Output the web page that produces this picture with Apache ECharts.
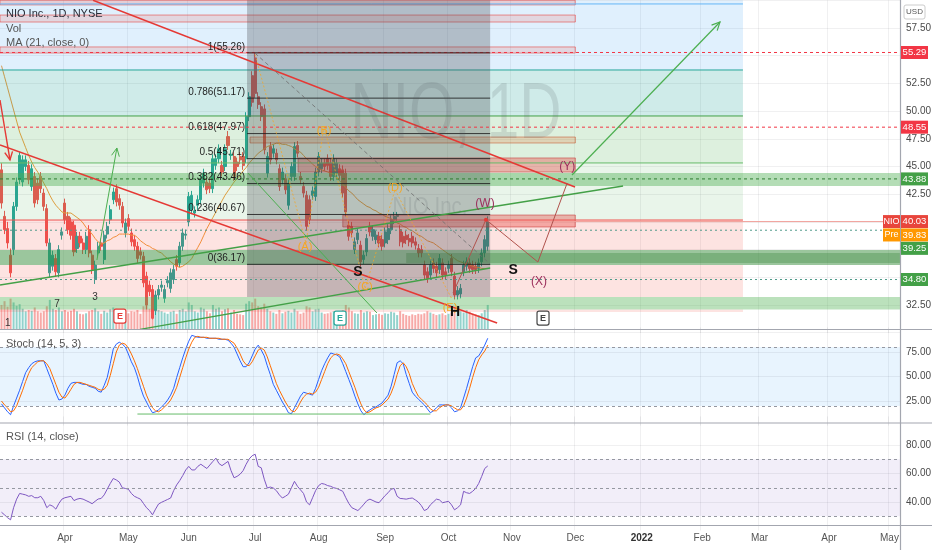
<!DOCTYPE html>
<html><head><meta charset="utf-8">
<script src="https://cdn.jsdelivr.net/npm/echarts@6/dist/echarts.min.js"></script>
<style>html,body{margin:0;padding:0;background:#fff}#c{width:932px;height:550px}</style>
</head><body><div id="c"></div>
<script>
// ---------- DATA ----------
const START_DATE = '2021-03-03';
const N_CATS = 298;
const HOLIDAYS = ['2021-04-02','2021-05-31','2021-07-05','2021-09-06','2021-11-25','2021-12-24','2022-01-17','2022-02-21','2022-04-15'];
const MONTHS = ['Jan','Feb','Mar','Apr','May','Jun','Jul','Aug','Sep','Oct','Nov','Dec'];

const opens = [
44.7,40.5,39.4,37.0,37.5,41.4,43.8,43.6,45.0,45.1,
43.2,44.1,43.5,44.1,42.6,41.2,35.4,36.0,36.7,35.4,
38.8,41.7,40.5,40.0,39.7,37.6,38.7,38.1,37.5,39.3,
37.0,34.8,37.2,38.1,36.6,38.9,40.2,42.0,43.0,42.1,
41.4,39.0,40.3,39.0,38.4,37.8,37.3,36.9,35.1,34.3,
33.9,32.0,33.4,34.1,33.1,34.5,34.0,34.8,36.6,36.3,
37.8,38.8,40.0,41.1,40.8,41.5,42.0,43.5,43.6,43.5,
43.0,45.1,45.7,45.1,45.0,47.7,46.0,45.9,45.4,45.9,
45.9,45.7,49.5,53.2,54.8,51.3,50.4,50.2,44.4,46.8,
46.2,46.2,44.8,43.8,43.9,41.5,44.1,44.1,46.9,44.1,
43.2,42.4,42.0,42.4,42.3,44.5,44.8,45.3,45.7,45.3,
44.1,44.4,44.8,44.7,44.4,39.7,39.6,37.5,38.4,37.9,
36.6,37.3,39.6,38.7,38.4,38.7,38.4,38.1,38.4,39.3,
40.2,40.5,39.3,38.7,38.8,38.5,38.7,38.2,37.6,37.5,
36.1,35.5,35.2,36.3,36.0,35.7,36.3,35.5,35.8,36.7,
35.1,33.4,33.5,35.5,36.0,36.3,36.1,36.0,35.8,36.4,
37.2,37.8];
const closes = [
41.7,39.3,38.1,35.4,41.4,43.6,46.0,45.6,45.6,43.8,
44.8,41.7,42.0,43.0,41.4,38.1,38.1,37.0,35.5,37.5,
39.1,40.2,39.3,38.8,37.3,38.7,38.1,37.5,38.7,37.2,
35.7,36.1,37.8,37.8,38.8,39.6,41.1,42.7,41.8,41.5,
39.9,39.9,39.6,38.2,37.8,36.7,37.0,34.5,32.5,33.7,
31.3,33.4,33.9,34.3,33.9,34.7,35.4,35.7,36.0,37.8,
39.0,38.9,42.3,42.4,41.0,42.0,43.8,44.4,42.9,43.0,
45.7,45.7,46.6,44.5,46.6,46.9,46.1,44.1,45.0,45.6,
45.1,49.5,51.3,50.8,51.6,50.6,49.5,46.5,45.9,45.6,
46.6,45.6,43.2,44.5,42.9,43.5,45.0,46.8,46.2,43.8,
42.6,39.6,40.2,42.8,44.5,45.9,45.3,45.0,45.1,44.1,
45.7,45.3,44.2,42.6,40.9,38.7,39.0,38.2,39.0,36.4,
37.0,38.5,39.1,39.3,38.8,38.1,37.8,39.1,39.4,40.2,
40.5,40.6,38.2,38.1,38.4,38.2,38.1,37.9,37.2,37.2,
35.2,34.9,36.1,35.8,35.4,36.7,35.2,35.2,36.1,35.5,
33.4,33.8,34.0,36.1,36.4,35.8,35.7,35.7,36.3,37.2,
38.4,40.03];
const lows = [
41.2,38.9,37.6,35.0,37.0,41.0,43.4,43.2,44.6,43.4,
42.8,41.3,41.6,42.6,41.0,37.8,35.0,35.6,35.1,35.0,
38.4,39.8,38.9,38.4,36.9,37.2,37.7,37.1,37.1,36.8,
35.3,34.4,36.8,37.4,36.2,38.5,39.8,41.6,41.4,41.1,
39.5,38.6,39.2,37.8,37.4,36.3,36.6,34.1,32.1,33.3,
31.2,31.6,33.0,33.7,32.7,34.1,33.6,34.4,35.6,35.9,
37.4,38.4,39.6,40.7,40.4,41.1,41.6,43.1,42.5,42.6,
42.6,44.7,45.3,44.1,44.6,46.5,45.6,43.7,44.6,45.2,
44.7,45.3,49.1,50.4,51.2,50.2,49.1,46.1,44.0,45.2,
45.8,45.2,42.8,43.4,42.5,41.1,43.7,43.7,45.8,43.4,
42.2,39.2,39.8,42.0,41.9,44.1,44.4,44.6,44.7,43.7,
43.7,44.0,43.8,42.2,40.5,38.3,38.6,37.1,38.0,36.0,
36.2,36.9,38.7,38.3,38.0,37.7,37.4,37.7,38.0,38.9,
39.8,40.1,37.8,37.7,38.0,37.8,37.7,37.5,36.8,36.8,
34.8,34.5,34.8,35.4,35.0,35.3,34.8,34.8,35.4,35.1,
33.0,33.0,33.1,35.1,35.6,35.4,35.3,35.3,35.4,36.0,
36.8,37.4];
const highs = [
45.3,41.0,40.0,37.6,41.8,44.0,46.3,46.0,46.0,45.5,
45.2,44.5,43.9,44.5,43.0,41.6,38.5,37.4,37.1,37.9,
39.5,42.1,40.9,40.4,40.1,39.1,39.1,38.5,39.1,39.7,
37.4,36.5,38.2,38.5,39.2,40.0,41.5,43.1,43.4,42.5,
41.8,40.3,40.7,39.4,38.8,38.2,37.7,37.3,35.5,34.7,
34.3,33.8,34.3,34.7,34.3,35.1,35.8,36.1,37.0,38.2,
39.4,39.3,42.7,42.8,41.4,42.4,44.2,44.8,44.0,43.9,
46.1,46.1,47.0,45.5,47.0,48.2,46.5,46.3,45.8,46.3,
46.3,49.9,51.7,53.6,55.26,51.7,50.8,50.6,46.3,47.2,
47.0,46.6,45.2,44.9,44.3,43.9,45.4,47.2,47.3,44.5,
43.6,42.8,42.4,43.2,44.9,46.3,45.7,45.7,46.1,45.7,
46.1,45.7,45.2,45.1,44.8,40.1,40.0,38.6,39.4,38.3,
37.4,38.9,40.0,39.7,39.2,39.1,38.8,39.5,39.8,40.6,
40.9,40.9,39.7,39.1,39.2,38.9,39.1,38.6,38.0,37.9,
36.5,35.9,36.5,36.7,36.4,37.1,36.7,35.9,36.5,37.1,
35.5,34.2,34.4,36.5,36.8,36.7,36.5,36.4,36.7,37.6,
38.8,40.5];
const volumes = [
95,110,88,120,105,92,98,80,70,75,72,85,70,65,70,90,115,80,75,85,70,
75,68,72,80,70,60,58,62,70,75,82,70,60,72,65,78,85,80,70,75,66,
62,70,68,75,60,90,110,80,120,95,75,70,65,60,68,72,60,75,80,70,105,
95,70,65,85,80,70,62,95,80,85,70,78,82,65,75,60,58,55,100,110,105,
120,90,85,100,80,70,65,60,75,62,68,72,65,80,70,60,65,90,85,70,78,
80,65,60,62,66,70,62,58,75,95,85,70,62,60,75,65,70,68,55,58,60,
56,62,60,68,65,55,70,60,55,52,58,55,60,58,62,70,65,60,55,58,62,
55,60,65,80,90,70,65,75,68,60,58,55,62,75,95];
const ma21 = [
54.1,53.1,52.1,51.1,50.1,49.1,48.1,47.4,46.7,46.0,
45.4,44.9,44.5,44.0,43.5,43.0,42.4,41.9,41.5,41.2,
40.9,40.8,40.8,40.8,40.6,40.4,40.2,39.9,39.5,39.2,
38.9,38.5,38.2,38.0,38.1,38.3,38.4,38.6,38.7,38.9,
38.9,38.9,38.9,38.8,38.8,38.6,38.3,38.1,37.9,37.8,
37.6,37.5,37.3,37.2,36.9,36.7,36.4,36.2,36.0,35.9,
36.0,36.2,36.4,36.7,37.2,37.7,38.2,38.8,39.4,39.9,
40.4,40.9,41.4,41.9,42.4,42.8,43.2,43.6,43.9,44.2,
44.6,44.9,45.3,45.6,45.9,46.2,46.4,46.6,46.8,46.9,
47.0,47.1,47.1,47.0,47.0,46.9,46.8,46.6,46.4,46.3,
46.0,45.7,45.5,45.2,45.0,44.8,44.7,44.6,44.5,44.4,
44.3,44.0,43.7,43.4,43.1,42.8,42.6,42.3,42.0,41.8,
41.6,41.4,41.3,41.1,41.0,40.8,40.7,40.5,40.4,40.3,
40.1,39.9,39.8,39.6,39.5,39.3,39.2,39.0,38.8,38.7,
38.5,38.3,38.2,38.1,37.9,37.7,37.5,37.3,37.1,36.9,
36.7,36.5,36.4,36.3,36.2,36.1,36.0,35.9,35.9,35.8,
35.8,35.8];
const stochK = [
22,18,14,11,20,28,36,45,54,59,63,65,66,66,66,58,50,42,33,26,
27,31,38,43,44,44,43,42,42,40,39,38,35,34,41,49,63,78,83,85,
83,80,73,65,59,50,39,30,24,18,13,14,16,19,22,26,31,38,49,59,
69,78,86,92,91,90,90,90,89,89,89,89,88,88,88,87,84,80,73,66,
60,60,64,71,78,82,77,71,61,52,42,36,30,24,19,13,12,18,24,30,
34,33,32,31,38,47,56,63,69,74,73,72,70,63,55,47,39,30,22,15,
11,14,16,18,19,21,23,27,31,40,52,64,66,63,52,43,34,30,27,24,
21,17,13,15,18,21,21,21,21,18,14,15,18,28,38,49,60,69,71,76,
82,89];
const stochD = [
25,21,18,14,15,20,28,36,45,53,59,62,65,66,66,63,58,50,42,34,
29,28,32,37,42,44,44,43,42,41,40,39,37,36,37,41,51,63,75,82,
84,83,79,73,66,58,49,40,31,24,18,15,14,16,19,22,26,32,39,49,
59,69,78,85,90,91,90,90,90,89,89,89,89,88,88,88,86,84,79,73,
66,62,61,65,71,77,79,77,70,61,52,43,36,30,24,19,15,14,18,24,
29,32,33,32,34,39,47,55,63,69,72,73,72,68,63,55,47,39,30,22,
16,13,14,16,18,19,21,24,27,33,41,52,61,64,60,53,43,36,30,27,
24,21,17,15,15,18,20,21,21,20,18,16,16,20,28,38,49,59,67,72,
76,82];
const rsi14 = [
32.8,31,29,27.5,36,42,46,45.5,45,44,
44.5,43,43,44,41,36,38,37,35,39,
42,43,43.5,44,41,42,42.5,42,41,40,
38.8,40.5,42.1,42.5,45,49,53,56.5,55.5,54,
50,49.5,49,46,44,43,42,39,36,34,
31,35,38.6,39.8,40.8,41.8,42.8,48,52,55,
58.5,62.5,65,62.5,62.5,65,66.5,65,63.5,66,
68.5,70.8,67,65.5,67,68.5,62,57,58,59.5,
62,66.5,70.2,72.5,73.5,65,64,56,49.8,50.5,
49.8,48,45,42.8,44,45.5,50,54.5,51,48.5,
46,40,38,43,48,51.5,53,52.5,51.5,51,
50,49.5,48.5,47.5,43,39,36,35,34,36,
38.5,41,42,41,40,39.5,42,44.5,46.5,49,
49.5,44,42.5,42.3,42,42.5,42.8,41.5,40,37.5,
34,35,38,40,42,41.5,39.5,40,40.5,38,
34.5,36,38,47.5,46.5,46,47.5,49.5,53,58,
63.5,65.3];
const priceTicks = [32.5, 42.5, 45, 47.5, 50, 52.5, 57.5];
const stochTicks = [25, 50, 75];
const rsiTicks = [40, 60, 80];
const lastPrice = 40.03, prePrice = 39.83;
const tagPrices = { red: [55.29, 48.55], green: [43.88, 34.80], support: 39.25 };
const fibLevels = [['1',55.26],['0.786',51.17],['0.618',47.97],['0.5',45.71],['0.382',43.46],['0.236',40.67],['0',36.17]];

// ---------- categories ----------
const categories = [];
(function(){
  const d = new Date(START_DATE + 'T00:00:00Z');
  while (categories.length < N_CATS) {
    const wd = d.getUTCDay();
    const s = d.toISOString().slice(0,10);
    if (wd !== 0 && wd !== 6 && HOLIDAYS.indexOf(s) < 0) categories.push(s);
    d.setUTCDate(d.getUTCDate() + 1);
  }
})();
const isMonthStart = categories.map((c,i)=> i>0 && c.slice(0,7) !== categories[i-1].slice(0,7));
function fmtCat(v){ const m = +v.slice(5,7); return m===1 ? '{b|'+v.slice(0,4)+'}' : MONTHS[m-1]; }

const UP = '#26a69a', DOWN = '#ef5350';
const FONT = '"Liberation Sans", Arial, sans-serif';
const candleData = opens.map((o,i)=>[o, closes[i], lows[i], highs[i]]);
const volData = volumes.map((v,i)=>({value:v, itemStyle:{color: closes[i]>=opens[i] ? 'rgba(38,166,154,0.5)' : 'rgba(239,83,80,0.5)'}}));

function xAx(gi, labels){
  return {type:'category', gridIndex:gi, data:categories, boundaryGap:true,
    axisLine:{show:false}, axisTick:{show:false},
    axisLabel: labels ? {show:true, interval:(i)=>isMonthStart[i], formatter:fmtCat, color:'#555', fontSize:10, margin:3, fontFamily:FONT,
      rich:{b:{fontWeight:'bold', color:'#333', fontSize:10, fontFamily:FONT}}} : {show:false},
    splitLine:{show: gi!==1, interval:(i)=>isMonthStart[i], lineStyle:{color:'rgba(42,46,57,0.07)', width:1}}};
}
function yLab(list){ return {show:true, color:'#4a4a4a', fontSize:10, margin:6, fontFamily:FONT,
  formatter:(v)=> list.some(t=>Math.abs(t-v)<1e-6) ? v.toFixed(2) : ''}; }
const faint = {color:'rgba(42,46,57,0.07)', width:1, type:'solid'};
const dash = {color:'#9598a1', width:1, type:[3,3]};

const option = {
  animation:false,
  backgroundColor:'#fff',
  grid:[
    {left:0, right:32, top:0.3, height:332.4, containLabel:false, outerBoundsMode:'none'},
    {left:0, right:32, top:0, height:329, containLabel:false, outerBoundsMode:'none'},
    {left:0, right:32, top:327.5, height:98, containLabel:false, outerBoundsMode:'none'},
    {left:0, right:32, top:416.5, height:114, containLabel:false, outerBoundsMode:'none'}
  ],
  xAxis:[xAx(0,false), xAx(1,false), xAx(2,false), xAx(3,true)],
  yAxis:[
    {gridIndex:0, type:'value', min:30, max:60, interval:2.5, position:'right', axisLine:{show:false}, axisTick:{show:false},
      splitLine:{show:true, lineStyle:faint}, axisLabel:yLab(priceTicks)},
    {gridIndex:1, type:'value', min:0, max:1300, show:false},
    {gridIndex:2, type:'value', min:0, max:100, interval:25, position:'right', axisLine:{show:false}, axisTick:{show:false},
      splitLine:{show:false}, axisLabel:yLab(stochTicks)},
    {gridIndex:3, type:'value', min:20, max:100, interval:20, position:'right', axisLine:{show:false}, axisTick:{show:false},
      splitLine:{show:false}, axisLabel:yLab(rsiTicks)}
  ],
  series:[
    {type:'bar', name:'Vol', xAxisIndex:1, yAxisIndex:1, data:volData, barWidth:2, silent:true, z:1},
    {type:'candlestick', name:'NIO', xAxisIndex:0, yAxisIndex:0, data:candleData, barWidth:2.6, silent:true, z:2,
      itemStyle:{color:UP, color0:DOWN, borderColor:UP, borderColor0:DOWN, borderWidth:1}},
    {type:'line', name:'MA', xAxisIndex:0, yAxisIndex:0, data:ma21, showSymbol:false, silent:true, z:3,
      lineStyle:{color:'#f39c3c', width:1}},
    {type:'line', name:'K', xAxisIndex:2, yAxisIndex:2, data:stochK, showSymbol:false, silent:true, z:3,
      lineStyle:{color:'#2962ff', width:1},
      markArea:{silent:true, itemStyle:{color:'rgba(33,150,243,0.1)'}, data:[[{yAxis:20},{yAxis:80}]]},
      markLine:{silent:true, symbol:'none', label:{show:false},
        data:[{yAxis:80, lineStyle:dash},{yAxis:20, lineStyle:dash},{yAxis:25, lineStyle:faint},{yAxis:50, lineStyle:faint},{yAxis:75, lineStyle:faint}]}},
    {type:'line', name:'D', xAxisIndex:2, yAxisIndex:2, data:stochD, showSymbol:false, silent:true, z:3,
      lineStyle:{color:'#ff6d00', width:1}},
    {type:'line', name:'RSI', xAxisIndex:3, yAxisIndex:3, data:rsi14, showSymbol:false, silent:true, z:3,
      lineStyle:{color:'#7e57c2', width:1},
      markArea:{silent:true, itemStyle:{color:'rgba(126,87,194,0.1)'}, data:[[{yAxis:30},{yAxis:70}]]},
      markLine:{silent:true, symbol:'none', label:{show:false},
        data:[{yAxis:70, lineStyle:dash},{yAxis:50, lineStyle:dash},{yAxis:30, lineStyle:dash},{yAxis:40, lineStyle:faint},{yAxis:60, lineStyle:faint},{yAxis:80, lineStyle:faint}]}}
  ]
};
const chart = echarts.init(document.getElementById('c'), null, {renderer:'canvas', width:932, height:550});
chart.setOption(option);

// ---------- drawings (data coordinates -> pixels through the axes) ----------
const gx0 = chart.convertToPixel({xAxisIndex:0}, 0);
const gx10 = chart.convertToPixel({xAxisIndex:0}, 10);
const step = (gx10 - gx0) / 10;
const px = (i) => gx0 + step * i;
const py = (p) => chart.convertToPixel({yAxisIndex:0}, p);
const pyS = (v) => chart.convertToPixel({yAxisIndex:2}, v);
const P = (i,p) => [px(i), py(p)];
const L = -0.5, FIBEND = 245.5, RIGHT = N_CATS - 0.5;
const G = [];
function rect(i0,i1,pLo,pHi,fill,stroke,z){
  const a = P(i0,pHi), b = P(i1,pLo);
  G.push({type:'rect', silent:true, z:z||4, shape:{x:a[0], y:a[1], width:b[0]-a[0], height:b[1]-a[1]},
    style:{fill:fill, stroke:stroke||null, lineWidth:1}});
}
function seg(a,b,stroke,w,dashArr,z){
  const A = P(a[0],a[1]), B = P(b[0],b[1]);
  G.push({type:'line', silent:true, z:z||6, shape:{x1:A[0],y1:A[1],x2:B[0],y2:B[1]},
    style:{stroke:stroke, lineWidth:w||1, lineDash:dashArr||null}});
  return [A,B];
}
function arrow(a,b,stroke,w){
  const [A,B] = seg(a,b,stroke,w);
  const ang = Math.atan2(B[1]-A[1], B[0]-A[0]), len = 9;
  const p1 = [B[0]-len*Math.cos(ang-0.45), B[1]-len*Math.sin(ang-0.45)];
  const p2 = [B[0]-len*Math.cos(ang+0.45), B[1]-len*Math.sin(ang+0.45)];
  G.push({type:'polyline', silent:true, z:6, shape:{points:[p1,B,p2]}, style:{stroke:stroke, lineWidth:w||1, fill:null}});
}
function txt(x,y,t,font,fill,align,z,extra){
  const e = {type:'text', silent:true, z:z||7, x:x, y:y,
    style:{text:t, font:font, fill:fill, textAlign:align||'left', textVerticalAlign:'middle', align:align||'left', verticalAlign:'middle'}};
  if (extra) Object.assign(e, extra);
  G.push(e);
}
function dtxt(i,p,t,font,fill){ const a = P(i,p); txt(a[0],a[1],t,font,fill,'center',8); }

// horizontal zones (TradingView drawings sit on top of the candles)
rect(L,FIBEND,53.71,60,'rgba(33,150,243,0.14)');
rect(L,FIBEND,49.56,53.71,'rgba(0,150,136,0.19)');
rect(L,FIBEND,45.32,49.56,'rgba(76,175,80,0.19)');
rect(L,FIBEND,40.17,45.32,'rgba(76,175,80,0.12)');
rect(L,FIBEND,37.46,40.17,'rgba(244,67,54,0.15)');
rect(L,FIBEND,33.22,36.11,'rgba(244,67,54,0.15)');
rect(L,FIBEND,31.87,32.10,'rgba(244,67,54,0.15)');
rect(L,RIGHT,36.11,37.46,'rgba(56,142,60,0.5)');
rect(134,RIGHT,36.3,37.2,'rgba(46,125,50,0.3)');
rect(L,RIGHT,32.10,33.22,'rgba(76,175,80,0.38)');
rect(L,RIGHT,43.24,44.41,'rgba(76,175,80,0.42)');
[[59.67,'#64b5f6'],[53.71,'#26a69a'],[49.56,'#43a047'],[45.32,'#66bb6a'],[40.17,'#ef5350']].forEach(([p,c])=>seg([L,p],[FIBEND,p],c,1,null,5));
// pink / red boxes
rect(L,190,59.58,60,'rgba(244,67,54,0.2)','rgba(229,57,53,0.5)');
rect(L,190,58.04,58.67,'rgba(244,67,54,0.15)','rgba(229,57,53,0.55)');
rect(L,190,55.24,55.79,'rgba(244,67,54,0.15)','rgba(229,57,53,0.55)');
rect(82.3,190,47.12,47.66,'rgba(230,81,0,0.18)','rgba(191,54,12,0.45)');
rect(98.2,190,44.5,45.77,'rgba(229,57,53,0.35)','rgba(198,40,40,0.5)');
rect(113,190,39.54,40.62,'rgba(229,57,53,0.35)','rgba(198,40,40,0.5)');
// gray range overlay
rect(81.3,161.8,33.22,60,'rgba(70,74,80,0.3)',null,5);
// dashed level lines
seg([L,55.29],[RIGHT,55.29],'#f23645',1,[3,3],5);
seg([L,48.55],[RIGHT,48.55],'#f23645',1,[3,3],5);
seg([L,43.88],[RIGHT,43.88],'#2e7d32',1,[3,3],5);
seg([L,tagPrices.support],[RIGHT,tagPrices.support],'#4f9a8a',1,[2,3],5);
seg([L,34.80],[RIGHT,34.80],'#4f9a8a',1,[2,3],5);
seg([161,lastPrice],[RIGHT,lastPrice],'#f0a09a',1,null,5);
// fib lines + labels
fibLevels.forEach(([lv,p])=>{
  seg([81.3,p],[161.8,p],'rgba(30,30,30,0.85)',1,null,6);
  const a = P(81.3,p);
  txt(a[0]-2, a[1]-6, lv+'('+p.toFixed(2)+')', '10px '+FONT, '#1e1e1e', 'right', 7);
});
// trend lines
seg([30.3,60.0],[189.9,43.15],'#e53935',1.6);
seg([L,46.94],[164.1,30.88],'#e53935',1.6);
arrow([L,51.0],[2.8,45.59],'#e53935',1.4);
seg([L,34.3],[205.8,43.24],'#43a047',1.4);
seg([45.9,30.3],[161.8,35.84],'#43a047',1.4);
seg([81.6,44.41],[124.3,31.78],'#4caf50',1);
seg([83.9,55.24],[161.8,36.2],'rgba(110,110,110,0.8)',1,[4,3]);
arrow([31.6,36.56],[38.2,46.67],'#4caf50',1);
// orange ABCDE path
[[84,55.1],[100.8,38.1],[106.8,48.6],[120.4,34.0],[130.3,42.9],[149.2,33.0]].reduce((a,b)=>{seg(a,b,'rgba(245,166,35,0.75)',1,[2,2]); return b;});
// W-X-Y path
[[149.5,33.58],[160.4,40.2],[177.6,36.38],[187.3,43.51]].reduce((a,b)=>{seg(a,b,'#b0524c',1); return b;});
(function(){ const a = P(160.4,40.2); G.push({type:'circle', silent:true, z:7, shape:{cx:a[0], cy:a[1], r:2}, style:{fill:'#e53935'}}); })();
arrow([188.9,44.23],[237.9,58.04],'#4caf50',1.2);
// stoch green line
G.push({type:'line', silent:true, z:6, shape:{x1:px(45), y1:pyS(11.7), x2:px(142), y2:pyS(11.7)}, style:{stroke:'#66bb6a', lineWidth:1}});
// wave labels
const ORG = '#f5a623', MAR = '#9c2f5c';
[['(A)',100.5,37.7],['(B)',106.8,48.2],['(C)',120.4,34.1],['(D)',130.3,43.06],['(E)',148.5,32.2]].forEach(([t,i,p])=>dtxt(i,p,t,'11px '+FONT,ORG));
[['(W)',160.1,41.6],['(X)',178,34.57],['(Y)',187.3,44.95]].forEach(([t,i,p])=>dtxt(i,p,t,'12px '+FONT,MAR));
[['S',118,35.47],['S',169.4,35.65],['H',150.2,31.87]].forEach(([t,i,p])=>dtxt(i,p,t,'bold 14px '+FONT,'#111'));
[['1',2.1,30.88],['7',18.4,32.6],['3',31,33.2]].forEach(([t,i,p])=>dtxt(i,p,t,'10px '+FONT,'#333'));
// earnings markers
[[39.2,31.5,'#e53935'],[112.1,31.32,'#26a69a'],[179.3,31.32,'#444']].forEach(([i,p,c])=>{
  const a = P(i,p);
  G.push({type:'rect', silent:true, z:8, shape:{x:a[0]-6, y:a[1]-7, width:12, height:14, r:2}, style:{fill:'#fff', stroke:c, lineWidth:1.2}});
  txt(a[0], a[1], 'E', 'bold 9px '+FONT, c, 'center', 9);
});
// watermarks
txt(456,116,'NIO, 1D','80px '+FONT,'rgba(80,85,95,0.16)','center',7,{scaleX:0.73, originX:0, originY:0});
txt(430,207,'NIO Inc.','24px '+FONT,'rgba(80,85,95,0.15)','center',7,{scaleX:0.85, originX:0, originY:0});
// legends
txt(6,14,'NIO Inc., 1D, NYSE','11px '+FONT,'#2a2e39','left',9);
txt(6,29,'Vol','11px '+FONT,'#555','left',9);
txt(6,43,'MA (21, close, 0)','11px '+FONT,'#555','left',9);
txt(6,344,'Stoch (14, 5, 3)','11px '+FONT,'#555','left',9);
txt(6,437,'RSI (14, close)','11px '+FONT,'#555','left',9);
// pane separators & price scale border
[[0,329.5,932,329.5],[0,423,932,423],[0,525.5,932,525.5],[900.5,0,900.5,550]].forEach(([x1,y1,x2,y2])=>
  G.push({type:'line', silent:true, z:12, shape:{x1,y1,x2,y2}, style:{stroke:'#a3a6af', lineWidth:1.2}}));
// price tags
function tag(y,text,bg,label){
  G.push({type:'rect', silent:true, z:13, shape:{x:901, y:y-6.5, width:27, height:13}, style:{fill:bg}});
  txt(914.5,y,text,'9.5px '+FONT,'#fff','center',14);
  if (label){
    G.push({type:'rect', silent:true, z:13, shape:{x:883, y:y-6.5, width:17, height:13}, style:{fill:bg}});
    txt(891.5,y,label,'9px '+FONT,'#fff','center',14);
  }
}
tagPrices.red.forEach(p=>tag(py(p),p.toFixed(2),'#f23645'));
tagPrices.green.forEach(p=>tag(py(p),p.toFixed(2),'#43a047'));
const yNio = py(lastPrice);
tag(yNio,lastPrice.toFixed(2),'#e8453c','NIO');
tag(yNio+13.4,prePrice.toFixed(2),'#ff9800','Pre');
tag(yNio+26.8,tagPrices.support.toFixed(2),'#43a047');
G.push({type:'rect', silent:true, z:13, shape:{x:904, y:5, width:21, height:14, r:2}, style:{fill:'#fff', stroke:'#ccc', lineWidth:1}});
txt(914.5,12,'USD','8px '+FONT,'#555','center',14);

chart.setOption({graphic:{elements:G}});
</script>
</body></html>
